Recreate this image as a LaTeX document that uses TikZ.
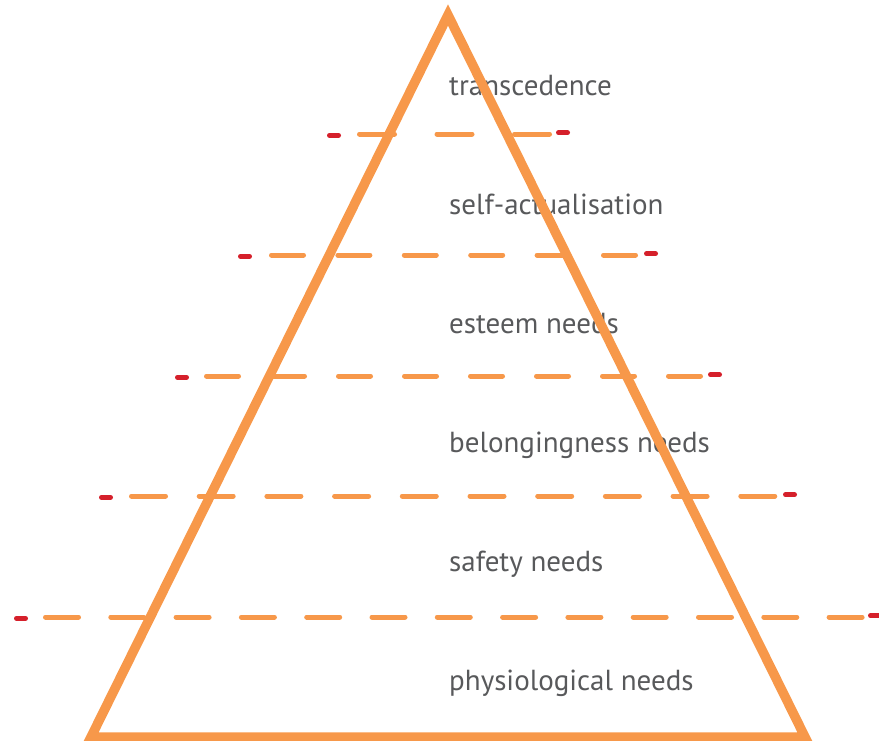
\documentclass[tikz,border=0pt]{standalone}
\usepackage{fontspec}
\setmainfont{PT Sans}
\definecolor{pyrorange}{HTML}{F7984A}
\definecolor{pyrred}{HTML}{D5202B}
\definecolor{pyrgray}{HTML}{58595B}
\tikzset{
  level/.style={anchor=base west,inner sep=0pt,text=pyrgray,font=\fontsize{29}{34}\selectfont},
  cut/.style={pyrorange,line width=5pt,line cap=round},
  cutend/.style={pyrred,line width=5pt,line cap=round}
}
\begin{document}
\begin{tikzpicture}[x=1pt,y=-1pt]
  \useasboundingbox (0,0) rectangle (879,740);
  \node[level] (transc) at (449,95) {transcedence};
  \node[level] (selfact) at (449,214) {self-actualisation};
  \node[level] (esteem) at (449,333) {esteem needs};
  \node[level] (belong) at (449,452) {belongingness needs};
  \node[level] (safety) at (449,571) {safety needs};
  \node[level] (physio) at (449,690) {physiological needs};
  \draw[pyrorange,line width=9.5pt,line join=miter] (448,15) -- (805,737) -- (91,737) -- cycle;
  \draw[cut,dash pattern=on 35pt off 42.5pt] (359.5,134) -- (549.5,134);
  \draw[cut,dash pattern=on 32pt off 34.4pt] (271.5,255) -- (635.5,255);
  \draw[cut,dash pattern=on 32pt off 34pt] (206.5,376) -- (700.5,376);
  \draw[cut,dash pattern=on 34pt off 33.7pt] (131.5,496) -- (774.8,496);
  \draw[cut,dash pattern=on 33pt off 32.3pt] (45.5,617) -- (862.1,617);
  \draw[cutend] (329.5,135.3) -- (338.5,135.3);
  \draw[cutend] (558.5,132.7) -- (567.5,132.7);
  \draw[cutend] (240.5,256.3) -- (249.5,256.3);
  \draw[cutend] (646.5,253.7) -- (655.5,253.7);
  \draw[cutend] (177.5,377.3) -- (186.5,377.3);
  \draw[cutend] (710.5,374.7) -- (719.5,374.7);
  \draw[cutend] (101.5,497.3) -- (110.5,497.3);
  \draw[cutend] (785.5,494.7) -- (794.5,494.7);
  \draw[cutend] (16.5,618.3) -- (25.5,618.3);
  \draw[cutend] (870.5,615.7) -- (879.5,615.7);
\end{tikzpicture}
\end{document}
